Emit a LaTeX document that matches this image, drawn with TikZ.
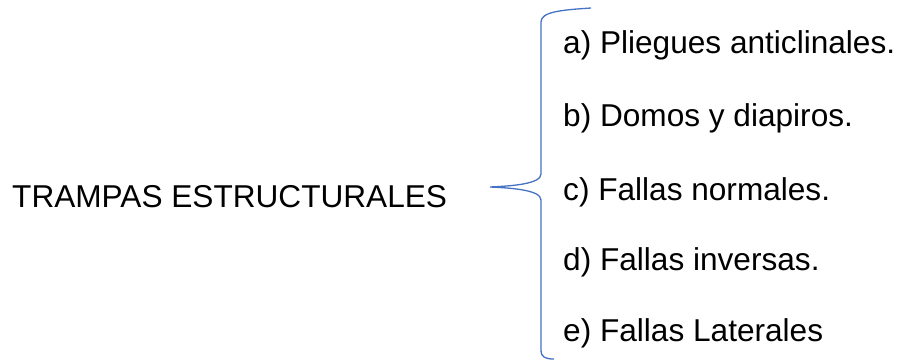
\documentclass[tikz,border=0pt]{standalone}
\usepackage{fontspec}
\setmainfont{Liberation Sans}
\definecolor{bracecol}{RGB}{68,114,196}
\begin{document}
\begin{tikzpicture}[x=1pt,y=-1pt,
  lbl/.style={anchor=base west,inner sep=0pt,font=\fontsize{31.6}{36}\selectfont,text=black},
  bracel/.style={draw=bracecol,line width=1.3pt}]
\useasboundingbox (0,0) rectangle (902,362);
\node[lbl] (main) at (12,207) {TRAMPAS ESTRUCTURALES};
\node[lbl] (a) at (563,53) {a) Pliegues anticlinales.};
\node[lbl] (b) at (563,126) {b) Domos y diapiros.};
\node[lbl] (c) at (563,200) {c) Fallas normales.};
\node[lbl] (d) at (563,270) {d) Fallas inversas.};
\node[lbl] (e) at (563,341) {e) Fallas Laterales};
\coordinate (top) at (591,8);
\coordinate (tip) at (490,187);
\coordinate (bot) at (554,359);
\draw[bracel] (top) .. controls (560,10) and (541,12) .. (541,22) -- (541,174)
  .. controls (541,184) and (512,186) .. (tip)
  .. controls (512,188) and (541,190) .. (541,200) -- (541,350)
  .. controls (541,357) and (545,359) .. (bot);
\end{tikzpicture}
\end{document}
